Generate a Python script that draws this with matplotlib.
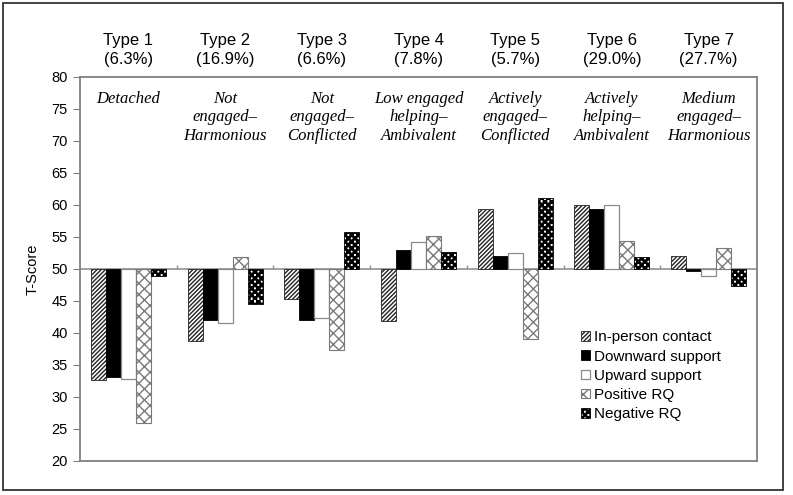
import numpy as np
import matplotlib
matplotlib.use("Agg")
import matplotlib.pyplot as plt
from matplotlib import hatch as mhatch
from matplotlib.path import Path
from matplotlib.patches import Rectangle
from matplotlib.transforms import blended_transform_factory

# ---------------- data ----------------
types = ["Type 1", "Type 2", "Type 3", "Type 4", "Type 5", "Type 6", "Type 7"]
shares = ["6.3%", "16.9%", "6.6%", "7.8%", "5.7%", "29.0%", "27.7%"]
names = ["Detached", "Not\nengaged–\nHarmonious", "Not\nengaged–\nConflicted",
         "Low engaged\nhelping–\nAmbivalent", "Actively\nengaged–\nConflicted",
         "Actively\nhelping–\nAmbivalent", "Medium\nengaged–\nHarmonious"]
series = ["In-person contact", "Downward support", "Upward support",
          "Positive RQ", "Negative RQ"]
in_person = [32.6, 38.7, 45.3, 41.8, 59.4, 60.0, 52.1]
downward = [33.1, 42.0, 42.0, 53.0, 52.0, 59.4, 49.7]
upward = [32.8, 41.5, 42.4, 54.2, 52.5, 60.0, 48.9]
positive = [25.9, 51.9, 37.3, 55.1, 39.0, 54.4, 53.3]
negative = [48.9, 44.5, 55.8, 52.7, 61.1, 51.8, 47.3]
baseline = 50
y_ticks = [20, 25, 30, 35, 40, 45, 50, 55, 60, 65, 70, 75, 80]


# ---------------- custom checkerboard hatch (replaces 'O') ----------------
class CheckerHatch(mhatch.HatchPatternBase):
    n = 30

    def __init__(self, hatch, density):
        self.on = hatch.count("O") > 0
        if self.on:
            self.cells = [(i, j) for i in range(self.n) for j in range(self.n)
                          if (i + j) % 2 == 0]
            self.num_vertices = len(self.cells) * 5
        else:
            self.num_vertices = 0

    def set_vertices_and_codes(self, vertices, codes):
        s = 1.0 / self.n
        k = 0
        for (i, j) in self.cells:
            x0, y0 = i * s, j * s
            vertices[k:k + 5] = [(x0, y0), (x0 + s, y0), (x0 + s, y0 + s),
                                 (x0, y0 + s), (x0, y0)]
            codes[k:k + 5] = [Path.MOVETO, Path.LINETO, Path.LINETO,
                              Path.LINETO, Path.CLOSEPOLY]
            k += 5


mhatch._hatch_types = [h for h in mhatch._hatch_types
                       if h is not mhatch.LargeCircles] + [CheckerHatch]

plt.rcParams["font.family"] = ["Liberation Sans", "DejaVu Sans"]
plt.rcParams["hatch.linewidth"] = 1.0

fig = plt.figure(figsize=(7.93, 4.95), dpi=100)
ax = fig.add_axes([80 / 793, 1 - 461 / 495, (757 - 80) / 793, (461 - 77) / 495])

x = np.arange(len(types))
w = 0.155
styles = [
    dict(facecolor="white", edgecolor="#222222", hatch="/" * 8, linewidth=0.6),
    dict(facecolor="black", edgecolor="black", linewidth=0.6),
    dict(facecolor="white", edgecolor="#8a8a8a", linewidth=0.9),
    dict(facecolor="white", edgecolor="#7a7a7a", hatch="xxx", linewidth=0.8),
    dict(facecolor="white", edgecolor="black", hatch="O", linewidth=0.6),
]
data = [in_person, downward, upward, positive, negative]
for k, (vals, st, lab) in enumerate(zip(data, styles, series)):
    heights = np.array(vals) - baseline
    ax.bar(x + (k - 2) * w, heights, width=w, bottom=baseline, label=lab,
           zorder=2, **st)

ax.set_xlim(-0.5, len(types) - 0.5)
ax.set_ylim(20, 80)
ax.set_yticks(y_ticks)
ax.tick_params(axis="y", labelsize=10.5, length=5, color="#808080", pad=4)
ax.set_xticks([])
for sp in ax.spines.values():
    sp.set_color("#808080")
    sp.set_linewidth(1.3)

# baseline axis with boundary tick marks
ax.axhline(baseline, color="#909090", lw=1.2, zorder=1)
ax.vlines(np.arange(len(types) - 1) + 0.5, baseline, baseline + 0.6,
          color="#909090", lw=1.0, zorder=1)

ax.set_ylabel("T-Score", fontsize=10.5, labelpad=8)

# type labels above the plot
tr = blended_transform_factory(ax.transData, fig.transFigure)
for xi, t, s in zip(x, types, shares):
    ax.text(xi, 1 - 50 / 495, f"{t}\n({s})", transform=tr, ha="center",
            va="center", fontsize=12, linespacing=1.28)

# italic names inside the plot
for xi, nm in zip(x, names):
    ax.text(xi, 77.8, nm, ha="center", va="top", fontsize=12,
            family="Liberation Serif", style="italic", linespacing=1.2)

leg = ax.legend(loc="upper left", bbox_to_anchor=(0.74, 0.34), frameon=False,
                fontsize=11, handlelength=0.6, handleheight=0.6,
                handletextpad=0.25, labelspacing=0.34, borderpad=0,
                borderaxespad=0)

# outer border
fig.add_artist(Rectangle((3 / 793, 1 - 490 / 495), 780 / 793, 487 / 495,
                         transform=fig.transFigure, fill=False,
                         edgecolor="#333333", lw=1.3))

fig.savefig("out.png", dpi=100)
